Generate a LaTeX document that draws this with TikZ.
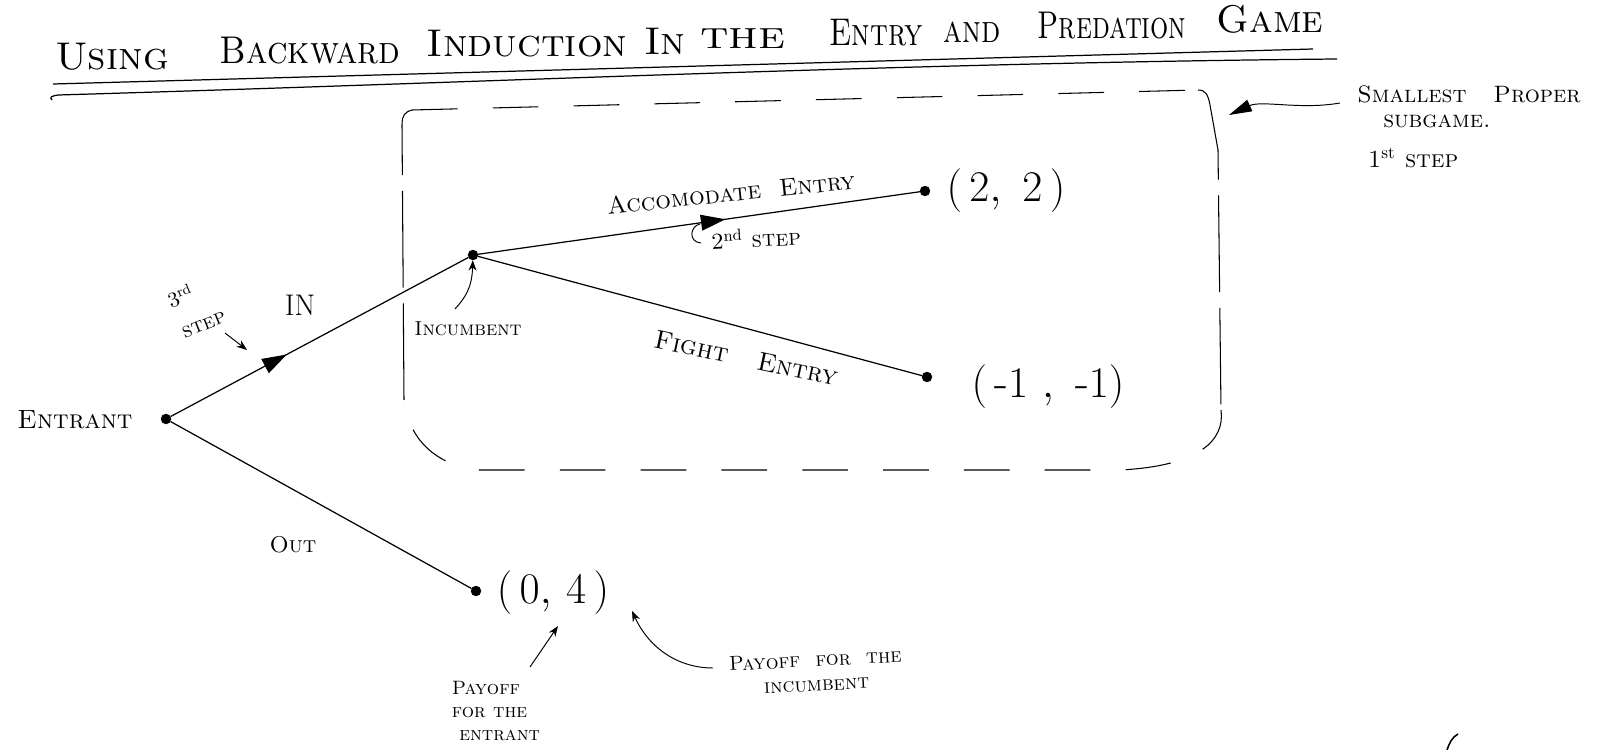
\documentclass[tikz,border=0pt]{standalone}
\usetikzlibrary{arrows.meta,decorations.markings}
\begin{document}
\begin{tikzpicture}[x=0.02cm,y=-0.02cm,
  title/.style={font=\fontsize{22}{26}\selectfont\scshape,inner sep=0pt},
  lbl/.style={font=\fontsize{14}{16}\selectfont\scshape,inner sep=0pt},
  small/.style={font=\fontsize{11}{13}\selectfont\scshape,inner sep=0pt,align=left},
  pay/.style={font=\fontsize{26}{30}\selectfont,inner sep=0pt},
  dot/.style={circle,fill=black,draw=black,inner sep=0pt,minimum size=5.5pt},
  edge/.style={line width=0.7pt},
  midarrow/.style={decoration={markings,mark=at position #1 with {\arrow{Triangle[length=14pt,width=9pt]}}},postaction={decorate}},
  note/.style={line width=0.55pt,-{Stealth[length=6pt,width=4.5pt]}},
  boxh/.style={line width=0.6pt,dash pattern=on 26pt off 20pt},
  boxv/.style={line width=0.6pt,dash pattern=on 55pt off 9pt}]
\newcommand{\lc}[1]{{\fontshape{n}\selectfont #1}}
\useasboundingbox (0,0) rectangle (1597,750);

% title
\node[title,xscale=1.04] (t1) at (112,57) {Using};
\node[title,xscale=0.9] (t2) at (310,51) {Backward};
\node[title,xscale=1.04] (t3) at (527,44) {Induction};
\node[title,xscale=1.05] (t4) at (665,41) {In};
\node[title,xscale=1.25] (t5) at (743,39) {the};
\node[title,xscale=0.78] (t6) at (876,33) {Entry};
\node[title,xscale=0.8] (t7) at (972,32) {and};
\node[title,xscale=0.74] (t8) at (1112,26) {Predation};
\node[title,xscale=1.0] (t9) at (1270,19) {Game};
\draw[line width=0.7pt] (53,84) -- (1313,49);
\draw[line width=0.7pt] (52,100) .. controls (49,97) and (52,96) .. (58,95) .. controls (500,82) and (900,63) .. (1337,59);

% dashed subgame box
\draw[boxh] (412,110) -- (1198,90);
\draw[boxv] (1198,90) .. controls (1206,90) and (1208,95) .. (1210,105) -- (1218,150) -- (1221,410);
\draw[boxh] (1221,410) .. controls (1225,440) and (1200,466) .. (1120,470) -- (470,470) .. controls (440,462) and (410,445) .. (404,400);
\draw[boxv] (404,400) -- (402,125) .. controls (402,115) and (405,112) .. (412,110);

% tree nodes
\node[dot] (ent) at (166,419) {};
\node[dot] (inc) at (473,255) {};
\node[dot] (acc) at (925,191) {};
\node[dot] (fig) at (927,377) {};
\node[dot] (out) at (476,591) {};

\draw[edge,midarrow=0.39] (ent) -- (inc);
\draw[edge,midarrow=0.56] (inc) -- (acc);
\draw[edge] (inc) -- (fig);
\draw[edge] (ent) -- (out);

% labels
\node[lbl,font=\fontsize{15}{18}\selectfont\scshape] (lent) at (75,420) {Entrant};
\node[lbl,font=\fontsize{17}{18}\selectfont] (lin) at (300,305) {IN};
\node[lbl,font=\fontsize{13}{16}\selectfont\scshape] (lout) at (293,545) {Out};
\node[lbl] (lacc) at (731,193) [rotate=6] {Accomodate\ \ Entry};
\node[lbl,font=\fontsize{15}{16}\selectfont\scshape] (lfig) at (746,358) [rotate=-12] {Fight\ \ \ Entry};
\node[small,font=\fontsize{13}{15}\selectfont\scshape] (l2nd) at (756,238) [rotate=3] {2\textsuperscript{\lc{nd}} step};
\node[small,font=\fontsize{11.5}{13}\selectfont\scshape] (linc) at (468,329) {Incumbent};
\node[small,font=\fontsize{12}{13}\selectfont\scshape] (l3rd) at (180,296) [rotate=22] {3\textsuperscript{\lc{rd}}};
\node[small,font=\fontsize{12}{13}\selectfont\scshape] (l3step) at (204,325) [rotate=22] {step};

% payoffs
\node[pay] (p22) at (1006,191) {$\Bigl(\,2,\ 2\,\Bigr)$};
\node[pay] (p11) at (1048,387) {$\Bigl(\,\mbox{-}1\ ,\ \mbox{-}1\Bigr)$};
\node[pay] (p04) at (553,593) {$\Bigl(\,0,\,4\,\Bigr)$};

% annotations
\node[small,font=\fontsize{13.5}{15}\selectfont\scshape] (sp1) at (1469,94) {Smallest\ \ \ Proper};
\node[small,font=\fontsize{13.5}{15}\selectfont\scshape] (sp2) at (1437,121) {subgame.};
\node[small,font=\fontsize{14}{15}\selectfont\scshape] (sp3) at (1413,158) {1\textsuperscript{\lc{st}} step};
\coordinate (boxpt) at (1229,115);
\draw[line width=0.55pt,-{Triangle[length=13pt,width=7pt]}] (1340,103) .. controls (1300,110) and (1262,100) .. (boxpt);

\node[small,align=left] (pe) at (496,711) {Payoff\\for the\\\ entrant};
\node[small,font=\fontsize{11.5}{14}\selectfont\scshape,align=center] (pi) at (816,672) [rotate=3] {Payoff\ \ for\ \ the\\incumbent};

\coordinate (a3s) at (225,333);
\coordinate (a3e) at (247,350);
\draw[note] (a3s) -- (a3e);
\coordinate (aincs) at (455,309);
\draw[note] (aincs) .. controls (465,298) and (472,288) .. (inc);
\coordinate (apes) at (530,667);
\coordinate (apee) at (558,626);
\draw[note] (apes) -- (apee);
\coordinate (apis) at (713,668);
\coordinate (apie) at (632,611);
\draw[note] (apis) .. controls (680,668) and (650,650) .. (apie);

% hook under 2nd-step arrowhead
\draw[line width=0.55pt] (700,224) .. controls (690,226) and (688,242) .. (701,243);

% stray pen mark
\draw[line width=0.9pt] (1458,734) .. controls (1452,737) and (1449,744) .. (1447,750);
\end{tikzpicture}
\end{document}
